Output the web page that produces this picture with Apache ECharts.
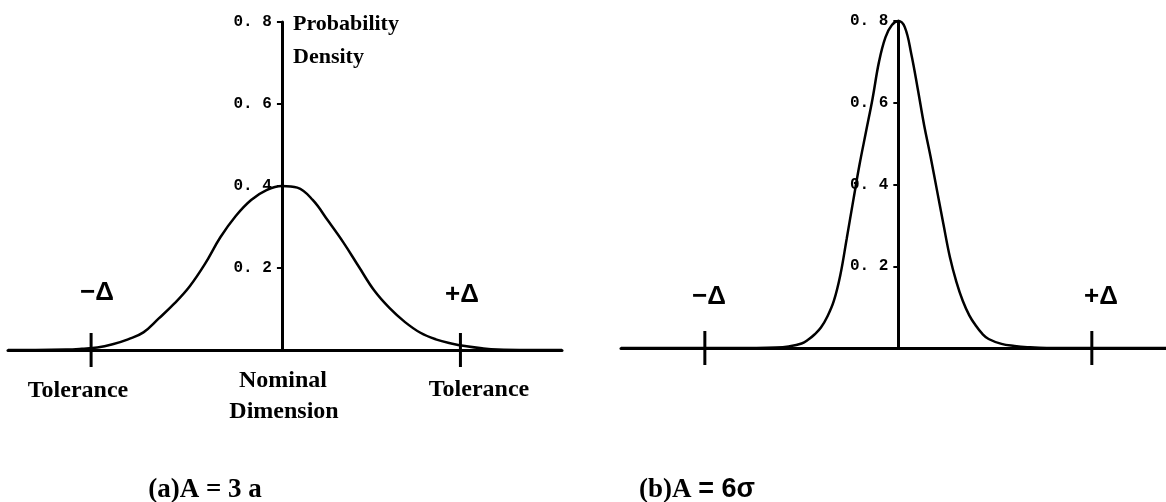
<!DOCTYPE html>
<html>
<head>
<meta charset="utf-8">
<script src="https://cdn.jsdelivr.net/npm/echarts@6/dist/echarts.min.js"></script>
<style>
html,body{margin:0;padding:0;background:#fff;}
#chart{width:1166px;height:502px;}
</style>
</head>
<body>
<div id="chart"></div>
<script>
// ---- data ----
// (a) Δ = 3σ : x in units where Δ ≈ 3
var curveAX = [-4.45, -4.0, -3.5, -3.25, -3.0, -2.75, -2.5, -2.25, -2.0, -1.75, -1.5, -1.25, -1.0, -0.75, -0.5, -0.25, 0, 0.25, 0.5, 0.75, 1.0, 1.25, 1.5, 1.75, 2.0, 2.25, 2.5, 2.75, 3.0, 3.25, 3.5, 4.0, 4.55];
var curveAY = [0, 0, 0.001, 0.003, 0.006, 0.014, 0.026, 0.043, 0.077, 0.113, 0.155, 0.21, 0.275, 0.327, 0.366, 0.39, 0.4, 0.396, 0.366, 0.315, 0.262, 0.203, 0.145, 0.102, 0.068, 0.042, 0.026, 0.016, 0.009, 0.004, 0.001, 0, 0];
// (b) Δ = 6σ
var curveBX = [-4.3, -2.2, -1.9, -1.7, -1.5, -1.4, -1.3, -1.2, -1.1, -1.0, -0.9, -0.8, -0.7, -0.6, -0.5, -0.4, -0.3, -0.2, -0.1, 0, 0.1, 0.2, 0.3, 0.4, 0.5, 0.6, 0.7, 0.8, 0.9, 1.0, 1.1, 1.2, 1.3, 1.4, 1.6, 1.8, 2.0, 2.3, 4.15];
var curveBY = [0, 0, 0.001, 0.004, 0.011, 0.02, 0.033, 0.05, 0.077, 0.115, 0.178, 0.268, 0.36, 0.45, 0.53, 0.61, 0.70, 0.76, 0.79, 0.80, 0.785, 0.72, 0.635, 0.545, 0.468, 0.385, 0.302, 0.222, 0.162, 0.115, 0.08, 0.055, 0.035, 0.022, 0.01, 0.005, 0.002, 0, 0];
// tolerance tick positions (±Δ)
var deltaA = [-3.1, 2.9];
var deltaB = [-3.0, 3.0];
var deltaLabels = ['\u2212\u0394', '+\u0394'];
// y-axis ticks
var yTicks = [0, 0.2, 0.4, 0.6, 0.8];
var yTickStep = 0.2;
var xRangeA = [-4.45, 4.55];
var xRangeB = [-4.3, 4.15];
var captionA = '(a)A = 3 a';
var captionBLead = '(b)A ';
var captionBTail = '= 6\u03c3';
var axisTitle = ['Probability', 'Density'];
var bottomLabels = ['Tolerance', 'Nominal', 'Dimension', 'Tolerance'];

function zip(xs, ys){ return xs.map(function(x,i){ return [x, ys[i]]; }); }

var chart = echarts.init(document.getElementById('chart'), null, {renderer:'canvas'});

var gridA = {left:8, width:554, top:22, bottom:152, outerBoundsMode:'none', containLabel:false};
var gridB = {left:621, right:0, top:21, bottom:154, outerBoundsMode:'none', containLabel:false};

function xAxisOpt(idx, range){
  return {
    type:'value', gridIndex:idx, min:range[0], max:range[1],
    axisLine:{show:true, onZero:true, lineStyle:{color:'#000', width:3}},
    axisTick:{show:false}, axisLabel:{show:false}, splitLine:{show:false}
  };
}
function yAxisOpt(idx){
  return {
    type:'value', gridIndex:idx, min:yTicks[0], max:yTicks[yTicks.length-1], interval:yTickStep,
    axisLine:{show:true, onZero:true, lineStyle:{color:'#000', width:3}},
    axisTick:{show:true, length:5, lineStyle:{color:'#000', width:2}},
    axisLabel:{
      show:true, margin:10, color:'#000',
      fontFamily:'Liberation Mono', fontWeight:'bold', fontSize:16,
      formatter:function(v){ return v === 0 ? '' : v.toFixed(1).replace('.', '. '); }
    },
    splitLine:{show:false}
  };
}
function tickSeries(idx, vals){
  return {
    type:'custom', xAxisIndex:idx, yAxisIndex:idx, clip:false, silent:true, z:5,
    data: vals.map(function(v, i){ return [v, 0, i]; }),
    renderItem:function(params, api){
      var pt = api.coord([api.value(0), 0]);
      return {
        type:'line',
        shape:{x1:pt[0], y1:pt[1]-17, x2:pt[0], y2:pt[1]+17},
        style:{stroke:'#000', lineWidth:3}
      };
    }
  };
}
function curveSeries(idx, xs, ys){
  return {
    type:'line', xAxisIndex:idx, yAxisIndex:idx, data:zip(xs, ys),
    showSymbol:false, smooth:0.4, silent:true, z:4,
    lineStyle:{color:'#000', width:2.5}
  };
}

var serif = '"Liberation Serif", "Times New Roman", serif';
var sans = '"Liberation Sans", Arial, sans-serif';
function txt(str, x, y, font, align){
  return {type:'text', x:x, y:y, style:{text:str, font:font, fill:'#000', align:align||'center', verticalAlign:'middle'}};
}

var option = {
  backgroundColor:'#fff',
  animation:false,
  grid:[gridA, gridB],
  xAxis:[xAxisOpt(0, xRangeA), xAxisOpt(1, xRangeB)],
  yAxis:[yAxisOpt(0), yAxisOpt(1)],
  series:[
    curveSeries(0, curveAX, curveAY),
    curveSeries(1, curveBX, curveBY),
    tickSeries(0, deltaA),
    tickSeries(1, deltaB)
  ],
  graphic:[
    txt(axisTitle[0], 293, 24, 'bold 22px ' + serif, 'left'),
    txt(axisTitle[1], 293, 57, 'bold 22px ' + serif, 'left'),
    txt(deltaLabels[0], 97, 293, 'bold 26px ' + sans),
    txt(deltaLabels[1], 462, 295, 'bold 26px ' + sans),
    txt(deltaLabels[0], 709, 297, 'bold 26px ' + sans),
    txt(deltaLabels[1], 1101, 297, 'bold 26px ' + sans),
    txt(bottomLabels[0], 78, 391, 'bold 24px ' + serif),
    txt(bottomLabels[1], 283, 381, 'bold 24px ' + serif),
    txt(bottomLabels[2], 284, 412, 'bold 24px ' + serif),
    txt(bottomLabels[3], 479, 390, 'bold 24px ' + serif),
    txt(captionA, 205, 490, 'bold 27px ' + serif),
    {type:'text', x:697, y:490, style:{
      text:'{a|' + captionBLead + '}{b|' + captionBTail + '}',
      align:'center', verticalAlign:'middle', fill:'#000',
      rich:{
        a:{font:'bold 27px ' + serif, fill:'#000'},
        b:{font:'bold 27px ' + sans, fill:'#000'}
      }
    }}
  ]
};
chart.setOption(option);

// place y labels next to the axis line, which sits at x = 0 of each panel
var zeroA = chart.convertToPixel({xAxisIndex:0}, 0);
var zeroB = chart.convertToPixel({xAxisIndex:1}, 0);
chart.setOption({yAxis:[
  {axisLabel:{margin: 10 - (zeroA - gridA.left)}},
  {axisLabel:{margin: 10 - (zeroB - gridB.left)}}
]});
</script>
</body>
</html>
